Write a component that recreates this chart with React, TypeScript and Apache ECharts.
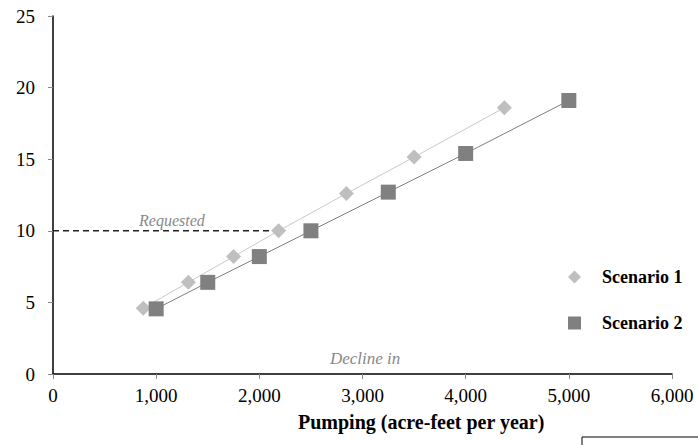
import React, { useEffect, useRef } from "react";
import * as echarts from "echarts";

const scenario1X = [875, 1312, 1750, 2187, 2844, 3500, 4375];
const scenario1Y = [4.6, 6.4, 8.2, 10.0, 12.6, 15.15, 18.6];
const scenario2X = [1000, 1500, 2000, 2500, 3250, 4000, 5000];
const scenario2Y = [4.55, 6.4, 8.2, 10.0, 12.7, 15.4, 19.1];
const requestedX = [0, 2187];
const requestedY = [10, 10];
const seriesNames = ["Scenario 1", "Scenario 2"];

const FONT = "'Liberation Serif', 'Times New Roman', serif";

export default function App() {
  const ref = useRef<HTMLDivElement>(null);
  useEffect(() => {
    if (!ref.current) return;
    const chart = echarts.init(ref.current, null, { renderer: "svg" });
    const zip = (xs: number[], ys: number[]) => xs.map((x, i) => [x, ys[i]]);
    chart.setOption({
      animation: false,
      backgroundColor: "#ffffff",
      textStyle: { fontFamily: FONT },
      grid: { left: 53, right: 26, top: 16, bottom: 71 },
      xAxis: {
        type: "value",
        min: 0,
        max: 6000,
        interval: 1000,
        splitLine: { show: false },
        axisLine: { show: true, lineStyle: { color: "#000", width: 1.5 } },
        axisTick: { show: true, length: 5, lineStyle: { color: "#888" } },
        axisLabel: {
          color: "#000",
          fontSize: 19,
          fontFamily: FONT,
          margin: 12,
          formatter: (v: number) => v.toLocaleString("en-US"),
        },
      },
      yAxis: {
        type: "value",
        min: 0,
        max: 25,
        interval: 5,
        splitLine: { show: false },
        axisLine: { show: true, lineStyle: { color: "#000", width: 1.5 } },
        axisTick: { show: true, length: 5, lineStyle: { color: "#888" } },
        axisLabel: { color: "#000", fontSize: 19, fontFamily: FONT, margin: 18 },
      },
      legend: {
        orient: "vertical",
        left: 563,
        top: 263,
        itemWidth: 13,
        itemHeight: 13,
        itemGap: 28,
        textStyle: {
          fontFamily: FONT,
          fontSize: 18,
          fontWeight: "bold",
          color: "#000",
          padding: [0, 0, 0, 16],
        },
        data: [
          { name: seriesNames[0], icon: "diamond" },
          { name: seriesNames[1], icon: "rect" },
        ],
      },
      series: [
        {
          name: "Requested",
          type: "line",
          data: zip(requestedX, requestedY),
          symbol: "none",
          lineStyle: { color: "#222", width: 1.6, type: [6, 4] },
          z: 1,
        },
        {
          name: seriesNames[0],
          type: "line",
          data: zip(scenario1X, scenario1Y),
          symbol: "diamond",
          symbolSize: 15,
          itemStyle: { color: "#bfbfbf" },
          lineStyle: { color: "#c8c8c8", width: 1 },
          z: 2,
        },
        {
          name: seriesNames[1],
          type: "line",
          data: zip(scenario2X, scenario2Y),
          symbol: "rect",
          symbolSize: 15,
          itemStyle: { color: "#808080" },
          lineStyle: { color: "#7f7f7f", width: 1 },
          z: 3,
        },
      ],
      graphic: [
        {
          type: "text",
          left: 139,
          top: 212,
          style: {
            text: "Requested",
            fontFamily: FONT,
            fontStyle: "italic",
            fontSize: 16,
            fill: "#888",
          },
        },
        {
          type: "text",
          left: 330,
          top: 350,
          style: {
            text: "Decline in",
            fontFamily: FONT,
            fontStyle: "italic",
            fontSize: 17,
            fill: "#888",
          },
        },
        {
          type: "text",
          left: 298,
          top: 412,
          style: {
            text: "Pumping (acre-feet per year)",
            fontFamily: FONT,
            fontWeight: "bold",
            fontSize: 20,
            fill: "#000",
          },
        },
        {
          type: "rect",
          shape: { x: 582, y: 437, width: 200, height: 40 },
          style: { fill: "none", stroke: "#000", lineWidth: 1 },
        },
      ],
    });
    return () => chart.dispose();
  }, []);
  return (
    <div
      ref={ref}
      style={{ position: "fixed", left: 0, top: 0, width: 698, height: 445 }}
    />
  );
}
